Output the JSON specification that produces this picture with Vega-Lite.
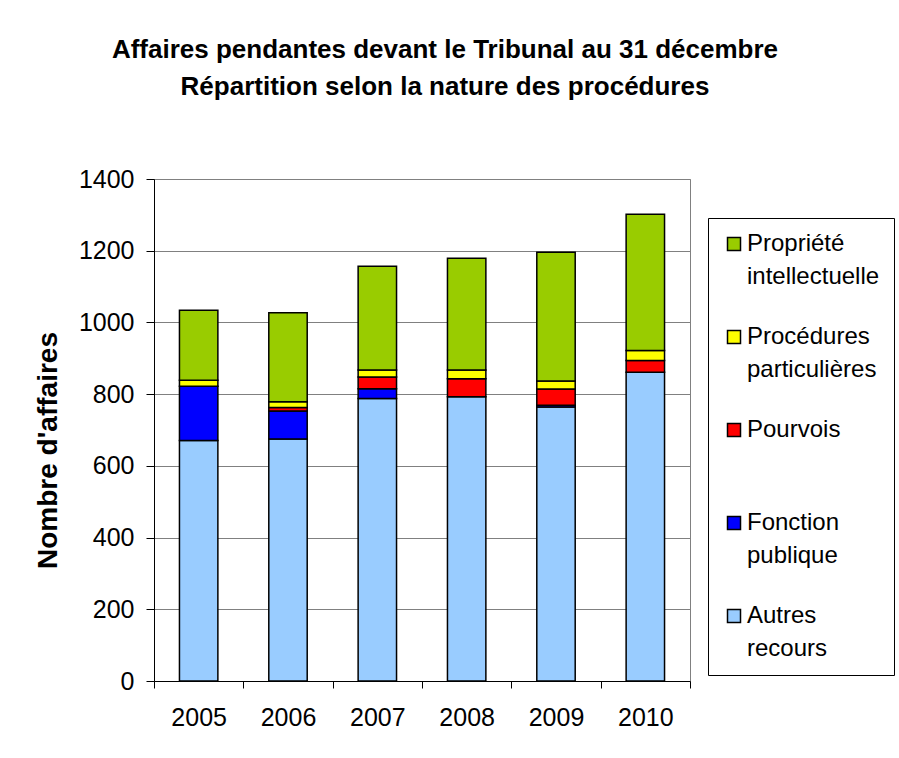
{
  "$schema": "https://vega.github.io/schema/vega-lite/v6.json",
  "width": 536,
  "height": 502,
  "autosize": {"type": "none"},
  "padding": {"left": 154, "top": 179, "right": 209, "bottom": 77},
  "background": "white",
  "title": {
    "text": ["Affaires pendantes devant le Tribunal au 31 décembre", "Répartition selon la nature des procédures"],
    "font": "Liberation Sans",
    "fontSize": 26,
    "fontWeight": "bold",
    "color": "black",
    "anchor": "middle",
    "frame": "group",
    "dx": 23,
    "offset": 67,
    "lineHeight": 37
  },
  "config": {
    "view": {"stroke": "#808080", "strokeWidth": 1},
    "font": "Liberation Sans",
    "style": {"guide-label": {"lineHeight": 33}}
  },
  "data": {
    "values": [
      {"annee": "2005", "categorie": "Autres recours", "n": 671},
      {"annee": "2005", "categorie": "Fonction publique", "n": 151},
      {"annee": "2005", "categorie": "Procédures particulières", "n": 17},
      {"annee": "2005", "categorie": "Propriété intellectuelle", "n": 195},
      {"annee": "2006", "categorie": "Autres recours", "n": 675},
      {"annee": "2006", "categorie": "Fonction publique", "n": 78},
      {"annee": "2006", "categorie": "Pourvois", "n": 10},
      {"annee": "2006", "categorie": "Procédures particulières", "n": 16},
      {"annee": "2006", "categorie": "Propriété intellectuelle", "n": 248},
      {"annee": "2007", "categorie": "Autres recours", "n": 788},
      {"annee": "2007", "categorie": "Fonction publique", "n": 27},
      {"annee": "2007", "categorie": "Pourvois", "n": 33},
      {"annee": "2007", "categorie": "Procédures particulières", "n": 19},
      {"annee": "2007", "categorie": "Propriété intellectuelle", "n": 290},
      {"annee": "2008", "categorie": "Autres recours", "n": 793},
      {"annee": "2008", "categorie": "Pourvois", "n": 50},
      {"annee": "2008", "categorie": "Procédures particulières", "n": 24},
      {"annee": "2008", "categorie": "Propriété intellectuelle", "n": 312},
      {"annee": "2009", "categorie": "Autres recours", "n": 764},
      {"annee": "2009", "categorie": "Fonction publique", "n": 5},
      {"annee": "2009", "categorie": "Pourvois", "n": 45},
      {"annee": "2009", "categorie": "Procédures particulières", "n": 23},
      {"annee": "2009", "categorie": "Propriété intellectuelle", "n": 359},
      {"annee": "2010", "categorie": "Autres recours", "n": 861},
      {"annee": "2010", "categorie": "Pourvois", "n": 33},
      {"annee": "2010", "categorie": "Procédures particulières", "n": 28},
      {"annee": "2010", "categorie": "Propriété intellectuelle", "n": 380}
    ]
  },
  "mark": {"type": "bar", "width": {"band": 0.43}, "stroke": "black", "strokeWidth": 1.5},
  "encoding": {
    "x": {
      "field": "annee",
      "type": "ordinal",
      "scale": {"paddingInner": 0, "paddingOuter": 0},
      "axis": {
        "title": null,
        "labelAngle": 0,
        "labelFont": "Liberation Sans",
        "labelFontSize": 25,
        "labelColor": "black",
        "labelPadding": 17,
        "tickBand": "extent",
        "tickSize": 7,
        "tickColor": "black",
        "domainColor": "black",
        "grid": false
      }
    },
    "y": {
      "field": "n",
      "type": "quantitative",
      "aggregate": "sum",
      "stack": "zero",
      "scale": {"domain": [0, 1400], "nice": false},
      "axis": {
        "title": "Nombre d'affaires",
        "titleFont": "Liberation Sans",
        "titleFontSize": 28,
        "titleFontWeight": "bold",
        "titleColor": "black",
        "titlePadding": 16,
        "titleY": 271,
        "values": [0, 200, 400, 600, 800, 1000, 1200, 1400],
        "format": "d",
        "labelFont": "Liberation Sans",
        "labelFontSize": 25,
        "labelColor": "black",
        "labelPadding": 12,
        "tickSize": 8,
        "tickColor": "black",
        "domainColor": "black",
        "gridColor": "#808080",
        "gridWidth": 1
      }
    },
    "color": {
      "field": "categorie",
      "type": "nominal",
      "scale": {
        "domain": ["Propriété intellectuelle", "Procédures particulières", "Pourvois", "Fonction publique", "Autres recours"],
        "range": ["#99CC00", "#FFFF00", "#FF0000", "#0000FF", "#99CCFF"]
      },
      "legend": {
        "title": null,
        "orient": "none",
        "legendX": 554,
        "legendY": 39,
        "strokeColor": "black",
        "padding": 14,
        "rowPadding": 36,
        "symbolType": "square",
        "symbolSize": 169,
        "symbolStrokeColor": "black",
        "symbolStrokeWidth": 1.5,
        "symbolOpacity": 1,
        "labelFont": "Liberation Sans",
        "labelFontSize": 24,
        "labelColor": "black",
        "labelOffset": 1,
        "labelLimit": 300,
        "labelExpr": "datum.label == 'Pourvois' ? ['Pourvois', ''] : split(datum.label, ' ')"
      }
    },
    "order": {"field": "categorie", "sort": "ascending"}
  }
}
